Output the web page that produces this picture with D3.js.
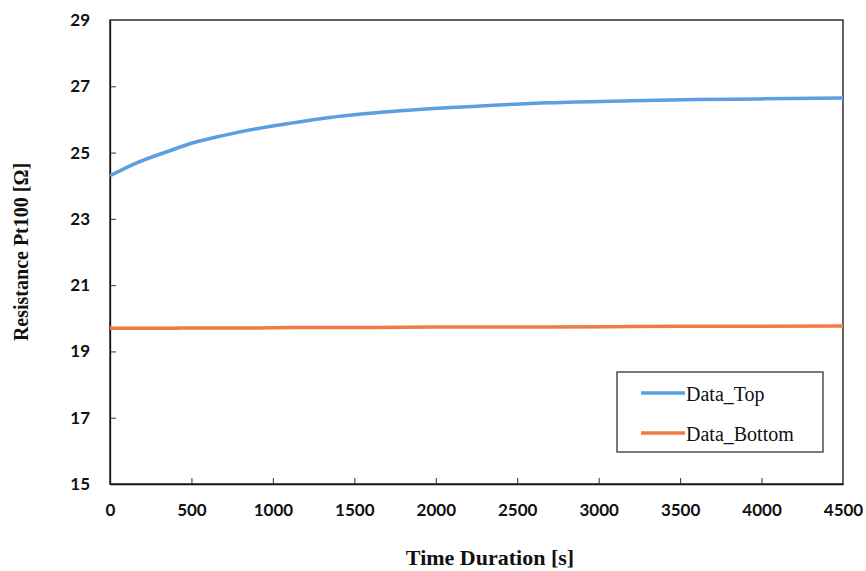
<!DOCTYPE html>
<html>
<head>
<meta charset="utf-8">
<script src="https://cdn.jsdelivr.net/npm/d3@7"></script>
<style>
  body { margin: 0; background: #fff; }
  svg { display: block; }
</style>
</head>
<body>
<svg></svg>
<script>
const w = 866;
const h = 571;

// data
const timeS = [0, 150, 375, 500, 700, 900, 1100, 1350, 1800, 2250, 2700, 3200, 3600, 4000, 4500];
const dataTop = [24.3, 24.66, 25.07, 25.28, 25.52, 25.72, 25.88, 26.06, 26.27, 26.4, 26.5, 26.56, 26.6, 26.62, 26.65];
const dataBottom = [19.7, 19.7, 19.7, 19.71, 19.71, 19.71, 19.72, 19.72, 19.73, 19.74, 19.74, 19.75, 19.76, 19.76, 19.77];
const xTicks = [0, 500, 1000, 1500, 2000, 2500, 3000, 3500, 4000, 4500];
const yTicks = [15, 17, 19, 21, 23, 25, 27, 29];
const seriesNames = ['Data_Top', 'Data_Bottom'];
const colors = ['#5a9fe0', '#f27a45'];

const mLeft = 110, mRight = 843, mTop = 20, mBottom = 484;

const svg = d3.select('svg')
  .attr('width', w)
  .attr('height', h);

const xScale = d3.scaleLinear().domain([0, 4500]).range([mLeft, mRight]);
const yScale = d3.scaleLinear().domain([15, 29]).range([mBottom, mTop]);

// frame
svg.append('rect')
  .attr('x', mLeft).attr('y', mTop)
  .attr('width', mRight - mLeft).attr('height', mBottom - mTop)
  .attr('fill', 'none').attr('stroke', '#111').attr('stroke-width', 1.3);

// axes with inward ticks
const xAxis = d3.axisBottom(xScale).tickValues(xTicks).tickFormat(d3.format('d'))
  .tickSizeInner(-6).tickSizeOuter(0).tickPadding(20);
const gx = svg.append('g')
  .attr('transform', 'translate(0,' + mBottom + ')')
  .call(xAxis);

const yAxis = d3.axisLeft(yScale).tickValues(yTicks).tickFormat(d3.format('d'))
  .tickSizeInner(-6).tickSizeOuter(0).tickPadding(20);
const gy = svg.append('g')
  .attr('transform', 'translate(' + mLeft + ',0)')
  .call(yAxis);

[gx, gy].forEach(g => {
  g.select('.domain').attr('stroke', '#111').attr('stroke-width', 1.3);
  g.selectAll('.tick line').attr('stroke', '#333');
  g.selectAll('.tick text')
    .attr('fill', '#111')
    .style('font-family', 'Lato, "Open Sans", sans-serif')
    .style('font-weight', 'bold')
    .style('font-size', '17px');
});
gx.selectAll('.tick line').filter(d => d === 0 || d === 4500).remove();
gy.selectAll('.tick line').filter(d => d === 15 || d === 29).remove();

// lines
const line = d3.line()
  .x((d, i) => xScale(timeS[i]))
  .y(d => yScale(d))
  .curve(d3.curveMonotoneX);

[dataTop, dataBottom].forEach((series, i) => {
  svg.append('path')
    .datum(series)
    .attr('d', line)
    .attr('fill', 'none')
    .attr('stroke', colors[i])
    .attr('stroke-width', 3.5);
});

// axis titles
svg.append('text')
  .attr('x', 490).attr('y', 565)
  .attr('text-anchor', 'middle')
  .style('font-family', '"Liberation Serif", serif')
  .style('font-weight', 'bold')
  .style('font-size', '22px')
  .attr('fill', '#111')
  .text('Time Duration [s]');

svg.append('text')
  .attr('transform', 'translate(28,252) rotate(-90)')
  .attr('text-anchor', 'middle')
  .style('font-family', '"Liberation Serif", serif')
  .style('font-weight', 'bold')
  .style('font-size', '20px')
  .attr('fill', '#111')
  .text('Resistance Pt100 [Ω]');

// legend
const legend = svg.append('g');
legend.append('rect')
  .attr('x', 617).attr('y', 372)
  .attr('width', 206).attr('height', 80)
  .attr('fill', '#fff').attr('stroke', '#222').attr('stroke-width', 1.2);

seriesNames.forEach((name, i) => {
  const ly = 393 + i * 40;
  legend.append('line')
    .attr('x1', 641).attr('x2', 685)
    .attr('y1', ly).attr('y2', ly)
    .attr('stroke', colors[i]).attr('stroke-width', 3.5);
  legend.append('text')
    .attr('x', 686).attr('y', ly + 8)
    .style('font-family', '"Liberation Serif", serif')
    .style('font-size', '20px')
    .attr('fill', '#111')
    .text(name);
});
</script>
</body>
</html>
